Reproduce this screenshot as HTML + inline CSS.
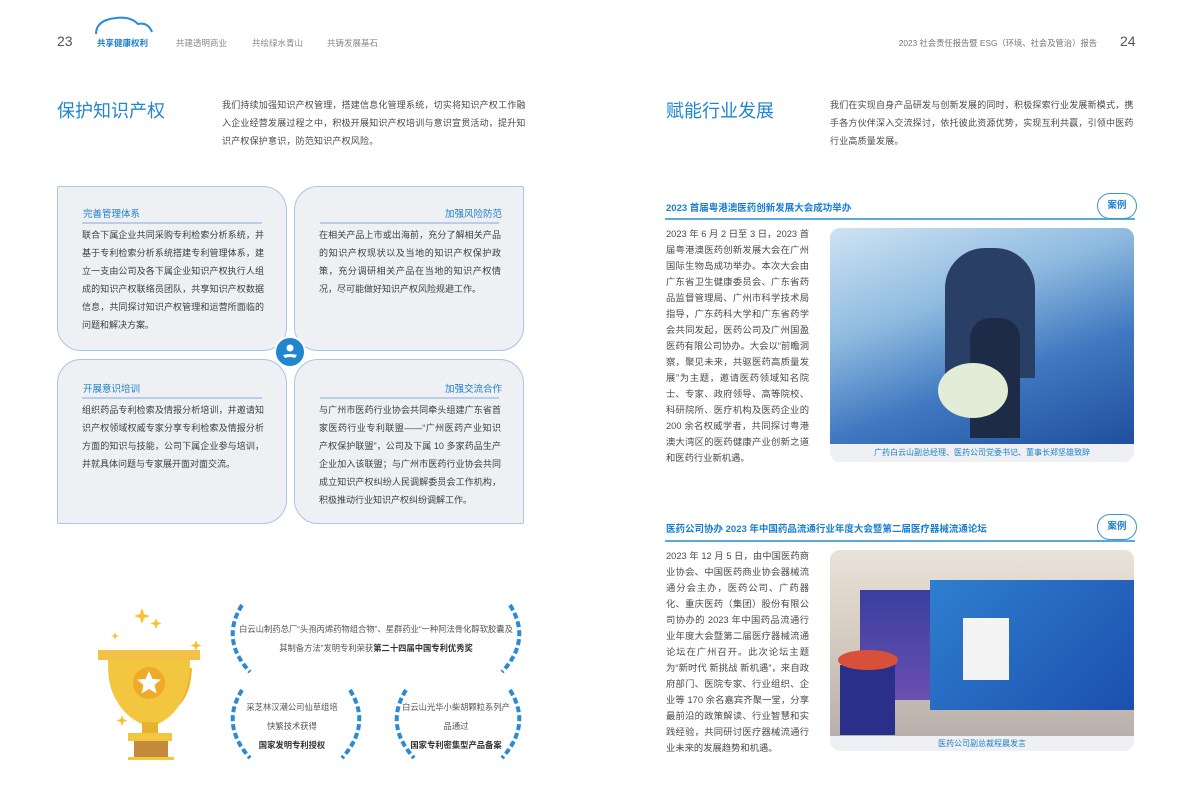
<!DOCTYPE html>
<html><head><meta charset="utf-8"><style>
*{margin:0;padding:0;box-sizing:border-box}
body{width:1192px;height:809px;background:#fff;position:relative;overflow:hidden;font-family:"Liberation Sans","Noto Sans CJK SC",sans-serif;color:#444}
.a{position:absolute}
.t{font-size:9px;line-height:18px;color:#4a4a4a;letter-spacing:0.2px}
.q{position:absolute;background:#eef0f4;border:1px solid #a9c5e8;}
.qh{position:absolute;font-size:9.5px;color:#1f7fc9;}
.ql{position:absolute;height:2px;background:#b9cde8}
.qb{position:absolute;font-size:9px;line-height:18px;color:#3d3d3d;text-align:justify}
.ct{font-size:9.5px;font-weight:bold;color:#1a7fd0}
.badge{position:absolute;width:40px;height:26px;border:1.5px solid #3a96d8;border-radius:13px;background:#fff;font-size:9.5px;font-weight:bold;color:#1f7fc9;text-align:center;line-height:23px}
.aw{position:absolute;font-size:8.3px;line-height:19px;color:#555;text-align:center}
.ctext{font-size:9.3px;line-height:16px;color:#4a4a4a;text-align:justify}
</style></head><body>
<div class="a" style="left:57px;top:33px;font-size:14px;color:#555">23</div>
<svg class="a" style="left:90px;top:14px" width="70" height="22"><path d="M6 20 Q6 6 26 4 Q40 2 48 10 Q58 8 62 18" fill="none" stroke="#2a8ad6" stroke-width="2"/></svg>
<div class="a" style="left:97px;top:37px;font-size:8.5px;font-weight:bold;color:#1a7fd0">共享健康权利</div>
<div class="a" style="left:176px;top:37px;font-size:8.5px;color:#888">共建透明商业</div>
<div class="a" style="left:252px;top:37px;font-size:8.5px;color:#888">共绘绿水青山</div>
<div class="a" style="left:327px;top:37px;font-size:8.5px;color:#888">共铸发展基石</div>
<div class="a" style="left:860px;top:37px;width:237px;text-align:right;font-size:8.3px;color:#777;white-space:nowrap">2023 社会责任报告暨 ESG（环境、社会及管治）报告</div>
<div class="a" style="left:1120px;top:33px;font-size:14px;color:#555">24</div>

<div class="a" style="left:57px;top:97px;font-size:18px;color:#1f86cf">保护知识产权</div>
<div class="a t" style="left:222px;top:96px;width:308px">我们持续加强知识产权管理，搭建信息化管理系统，切实将知识产权工作融入企业经营发展过程之中，积极开展知识产权培训与意识宣贯活动，提升知识产权保护意识，防范知识产权风险。</div>
<div class="a" style="left:666px;top:97px;font-size:18px;color:#1f86cf">赋能行业发展</div>
<div class="a t" style="left:830px;top:96px;width:308px">我们在实现自身产品研发与创新发展的同时，积极探索行业发展新模式，携手各方伙伴深入交流探讨，依托彼此资源优势，实现互利共赢，引领中医药行业高质量发展。</div>

<div class="q" style="left:57px;top:186px;width:230px;height:165px;border-radius:2px 24px 24px 24px"></div>
<div class="q" style="left:294px;top:186px;width:230px;height:165px;border-radius:24px 2px 24px 24px"></div>
<div class="q" style="left:57px;top:359px;width:230px;height:165px;border-radius:24px 24px 24px 2px"></div>
<div class="q" style="left:294px;top:359px;width:230px;height:165px;border-radius:24px 24px 2px 24px"></div>
<div class="qh" style="left:83px;top:206px">完善管理体系</div><div class="ql" style="left:82px;top:222px;width:180px"></div>
<div class="qb" style="left:82px;top:226px;width:182px">联合下属企业共同采购专利检索分析系统，并基于专利检索分析系统搭建专利管理体系，建立一支由公司及各下属企业知识产权执行人组成的知识产权联络员团队，共享知识产权数据信息，共同探讨知识产权管理和运营所面临的问题和解决方案。</div>
<div class="qh" style="left:445px;top:206px">加强风险防范</div><div class="ql" style="left:320px;top:222px;width:179px"></div>
<div class="qb" style="left:319px;top:226px;width:182px">在相关产品上市或出海前，充分了解相关产品的知识产权现状以及当地的知识产权保护政策，充分调研相关产品在当地的知识产权情况，尽可能做好知识产权风险规避工作。</div>
<div class="qh" style="left:83px;top:381px">开展意识培训</div><div class="ql" style="left:82px;top:397px;width:180px"></div>
<div class="qb" style="left:82px;top:401px;width:182px">组织药品专利检索及情报分析培训，并邀请知识产权领域权威专家分享专利检索及情报分析方面的知识与技能，公司下属企业参与培训，并就具体问题与专家展开面对面交流。</div>
<div class="qh" style="left:445px;top:381px">加强交流合作</div><div class="ql" style="left:320px;top:397px;width:179px"></div>
<div class="qb" style="left:319px;top:401px;width:182px">与广州市医药行业协会共同牵头组建广东省首家医药行业专利联盟——“广州医药产业知识产权保护联盟”，公司及下属 10 多家药品生产企业加入该联盟；与广州市医药行业协会共同成立知识产权纠纷人民调解委员会工作机构，积极推动行业知识产权纠纷调解工作。</div>
<div class="a" style="left:274px;top:336px;width:32px;height:32px;border-radius:50%;background:#1f86cf;border:2px solid #fff"></div>
<svg class="a" style="left:280px;top:342px" width="20" height="20"><circle cx="10" cy="6" r="3.5" fill="#fff"/><path d="M3 13 Q10 11 17 13 L15 16 Q10 14 5 16Z" fill="#fff"/></svg>

<svg class="a" style="left:90px;top:600px" width="120" height="160">
<g fill="#f4c430"><path d="M52 8 l2 6 6 2 -6 2 -2 6 -2 -6 -6 -2 6 -2z"/><path d="M66 18 l1.5 4 4 1.5 -4 1.5 -1.5 4 -1.5 -4 -4 -1.5 4 -1.5z"/><path d="M25 32 l1 3 3 1 -3 1 -1 3 -1 -3 -3 -1 3 -1z"/><path d="M106 40 l1.5 4 4 1.5 -4 1.5 -1.5 4 -1.5 -4 -4 -1.5 4 -1.5z"/><path d="M32 115 l1.5 4 4 1.5 -4 1.5 -1.5 4 -1.5 -4 -4 -1.5 4 -1.5z"/></g>
<path d="M20 68 Q22 110 52 112" fill="none" stroke="#f0b429" stroke-width="4"/><path d="M100 68 Q98 110 68 112" fill="none" stroke="#f0b429" stroke-width="4"/>
<rect x="8" y="50" width="102" height="10" fill="#f3c14a"/>
<path d="M18 60 L100 60 Q100 110 66 125 L54 125 Q18 110 18 60Z" fill="#f2c73f"/>
<rect x="52" y="122" width="16" height="12" fill="#e8b131"/>
<rect x="38" y="133" width="44" height="8" fill="#f2c73f"/>
<rect x="44" y="141" width="34" height="16" fill="#c48a3c"/><rect x="38" y="157" width="46" height="4" fill="#f2c73f"/>
<circle cx="59" cy="83" r="16" fill="#f0a928"/>
<path d="M59 71 l3.5 8 8.5 .5 -6.5 5.5 2 8.5 -7.5 -4.5 -7.5 4.5 2 -8.5 -6.5 -5.5 8.5 -.5z" fill="#fff"/>
</svg>
<svg class="a" style="left:220px;top:600px" width="310" height="165" fill="none" stroke="#2a8ad6" stroke-width="4" stroke-dasharray="6 3">
<path d="M22 5 Q0 40 30 72"/><path d="M290 5 Q312 40 282 72"/>
<path d="M22 90 Q0 125 30 158"/><path d="M130 90 Q152 125 122 158"/>
<path d="M186 90 Q164 125 194 158"/><path d="M290 90 Q312 125 282 158"/>
</svg>
<div class="aw" style="left:236px;top:620px;width:280px">白云山制药总厂“头孢丙烯药物组合物”、星群药业“一种阿法骨化醇软胶囊及其制备方法”发明专利荣获<b style="color:#333">第二十四届中国专利优秀奖</b></div>
<div class="aw" style="left:244px;top:698px;width:96px">采芝林汉潮公司仙草组培快繁技术获得<br><b style="color:#333">国家发明专利授权</b></div>
<div class="aw" style="left:402px;top:698px;width:108px">白云山光华小柴胡颗粒系列产品通过<br><b style="color:#333">国家专利密集型产品备案</b></div>

<div class="a ct" style="left:666px;top:200px">2023 首届粤港澳医药创新发展大会成功举办</div>
<div class="a" style="left:665px;top:218px;width:470px;height:1.5px;background:#5aa8e0"></div>
<div class="badge" style="left:1097px;top:193px">案例</div>
<div class="a ctext" style="left:666px;top:226px;width:143px">2023 年 6 月 2 日至 3 日，2023 首届粤港澳医药创新发展大会在广州国际生物岛成功举办。本次大会由广东省卫生健康委员会、广东省药品监督管理局、广州市科学技术局指导，广东药科大学和广东省药学会共同发起，医药公司及广州国盈医药有限公司协办。大会以“前瞻洞察，聚见未来，共驱医药高质量发展”为主题，邀请医药领域知名院士、专家、政府领导、高等院校、科研院所、医疗机构及医药企业的 200 余名权威学者，共同探讨粤港澳大湾区的医药健康产业创新之道和医药行业新机遇。</div>
<div class="a" style="left:830px;top:228px;width:304px;height:234px;border-radius:10px;background:#eef0f4;overflow:hidden">
<div style="height:216px;background:linear-gradient(160deg,#cfe3f3 0%,#8fbbe0 35%,#3f78c0 65%,#1f4f9e 100%);position:relative">
<div style="position:absolute;left:115px;top:20px;width:90px;height:130px;border-radius:40px 40px 0 0;background:#2a3f66"></div>
<div style="position:absolute;left:140px;top:90px;width:50px;height:120px;border-radius:20px 20px 0 0;background:#1e2b46"></div>
<div style="position:absolute;left:108px;top:135px;width:70px;height:55px;border-radius:50%;background:#e3ecd6"></div>
</div>
<div style="font-size:8px;color:#1f7fc9;text-align:center;line-height:18px">广药白云山副总经理、医药公司党委书记、董事长郑坚雄致辞</div></div>

<div class="a ct" style="left:666px;top:521px">医药公司协办 2023 年中国药品流通行业年度大会暨第二届医疗器械流通论坛</div>
<div class="a" style="left:665px;top:540px;width:470px;height:1.5px;background:#5aa8e0"></div>
<div class="badge" style="left:1097px;top:514px">案例</div>
<div class="a ctext" style="left:666px;top:548px;width:143px">2023 年 12 月 5 日，由中国医药商业协会、中国医药商业协会器械流通分会主办，医药公司、广药器化、重庆医药（集团）股份有限公司协办的 2023 年中国药品流通行业年度大会暨第二届医疗器械流通论坛在广州召开。此次论坛主题为“新时代 新挑战 新机遇”，来自政府部门、医院专家、行业组织、企业等 170 余名嘉宾齐聚一堂，分享最前沿的政策解读、行业智慧和实践经验，共同研讨医疗器械流通行业未来的发展趋势和机遇。</div>
<div class="a" style="left:830px;top:550px;width:304px;height:201px;border-radius:10px;background:#eef0f4;overflow:hidden">
<div style="height:186px;background:linear-gradient(180deg,#e9e2d8 0%,#d9d0c4 40%,#b8b0aa 100%);position:relative">
<div style="position:absolute;left:30px;top:40px;width:70px;height:110px;background:linear-gradient(#3a3fa0,#6a4fb0)"></div>
<div style="position:absolute;left:100px;top:30px;width:204px;height:130px;background:linear-gradient(135deg,#2f7fd0,#1c4fae)"></div>
<div style="position:absolute;left:133px;top:68px;width:46px;height:62px;background:#f4f4f4"></div>
<div style="position:absolute;left:10px;top:115px;width:55px;height:70px;background:#2a2f8a"></div>
<div style="position:absolute;left:8px;top:100px;width:60px;height:20px;border-radius:50%;background:#d8503a"></div>
</div>
<div style="font-size:8px;color:#1f7fc9;text-align:center;line-height:15px">医药公司副总裁程晨发言</div></div>
</body></html>
